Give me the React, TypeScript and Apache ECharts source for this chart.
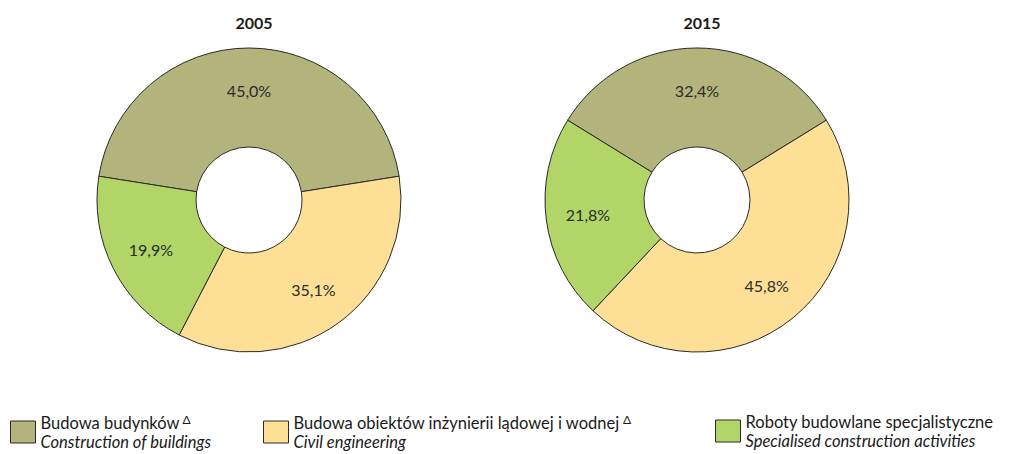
import React, { useEffect, useRef } from "react";
import * as echarts from "echarts";

const categories = ["Budowa budynków", "Budowa obiektów inżynierii lądowej i wodnej", "Roboty budowlane specjalistyczne"];
const categoriesEn = ["Construction of buildings", "Civil engineering", "Specialised construction activities"];
const deltaMark = [true, true, false];
const years = ["2005", "2015"];
const values2005 = [45.0, 35.1, 19.9];
const values2015 = [32.4, 45.8, 21.8];
const colors = ["#b2b47c", "#fde096", "#b1d667"];

const FONT = "Lato, 'Open Sans', sans-serif";

export default function App() {
  const ref = useRef<HTMLDivElement>(null);
  useEffect(() => {
    document.body.style.margin = "0";
    const chart = echarts.init(ref.current!, null, { renderer: "svg" });
    const data = (vals: number[]) =>
      categories.map((c, i) => ({ name: c, value: vals[i], itemStyle: { color: colors[i] } }));
    const ring = (vals: number[], cx: number) => ({
      type: "pie",
      center: [cx, 200],
      radius: [53, 152],
      startAngle: 90 + (vals[0] * 3.6) / 2,
      clockwise: true,
      itemStyle: { borderColor: "#2a2a2a", borderWidth: 1 },
      label: { show: false },
      labelLine: { show: false },
      emphasis: { disabled: true },
      data: data(vals),
    });
    const labels = (vals: number[], cx: number) => ({
      type: "pie",
      center: [cx, 200],
      radius: [62, 152],
      startAngle: 90 + (vals[0] * 3.6) / 2,
      clockwise: true,
      silent: true,
      itemStyle: { color: "rgba(0,0,0,0)", borderWidth: 0 },
      label: {
        show: true,
        position: "inside",
        formatter: (p: any) => p.value.toFixed(1).replace(".", ",") + "%",
        fontFamily: FONT,
        fontSize: 16,
        color: "#2b2b2b",
      },
      labelLine: { show: false },
      emphasis: { disabled: true },
      data: categories.map((c, i) => ({ name: c, value: vals[i], itemStyle: { color: "rgba(0,0,0,0)" } })),
    });
    const legendLefts = [10, 263, 715];
    chart.setOption({
      animation: false,
      title: years.map((y, i) => ({
        text: y,
        left: i === 0 ? 249 : 697,
        textAlign: "center",
        top: 9,
        textStyle: { fontFamily: FONT, fontSize: 16, fontWeight: "bold", color: "#1a1a1a" },
      })),
      legend: categories.map((c, i) => ({
        data: [c],
        left: legendLefts[i],
        top: 413,
        orient: "horizontal",
        icon: "rect",
        itemWidth: 25,
        itemHeight: 22,
        itemGap: 5,
        padding: 0,
        selectedMode: false,
        itemStyle: { borderColor: "#2a2a2a", borderWidth: 1 },
        formatter: (name: string) =>
          "{a|" + name + "}" + (deltaMark[i] ? " {s|Δ}" : "") + "\n{b|" + categoriesEn[i] + "}",
        textStyle: {
          fontFamily: FONT,
          color: "#1a1a1a",
          rich: {
            a: { fontFamily: FONT, fontSize: 16.5, color: "#1a1a1a", lineHeight: 19 },
            s: { fontFamily: FONT, fontSize: 12, color: "#1a1a1a", verticalAlign: "top", lineHeight: 19, padding: [0, 0, 8, 0] },
            b: { fontFamily: FONT, fontSize: 16.5, fontStyle: "italic", color: "#1a1a1a", lineHeight: 19 },
          },
        },
      })),
      series: [ring(values2005, 249), ring(values2015, 697), labels(values2005, 249), labels(values2015, 697)],
    });
    return () => chart.dispose();
  }, []);
  return <div ref={ref} style={{ width: 1009, height: 454 }} />;
}
